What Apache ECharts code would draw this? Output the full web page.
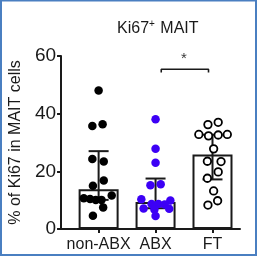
<!DOCTYPE html>
<html>
<head>
<meta charset="utf-8">
<script src="https://cdn.jsdelivr.net/npm/echarts@6/dist/echarts.min.js"></script>
<style>
  html, body { margin: 0; padding: 0; background: #fff; }
  #chart { width: 259px; height: 257px; }
</style>
</head>
<body>
<div id="chart"></div>
<script>
// groups on the x axis
const categories = ['non-ABX', 'ABX', 'FT'];

// bar height (median) and whisker ends per group
const barValues = [13.8, 9.4, 25.8];
const errLow = [10.1, 7.2, 17.2];
const errHigh = [27.0, 17.5, 32.7];

// individual values, with horizontal jitter
const nonAbxValues = [48.0, 35.7, 36.3, 24.3, 23.4, 16.8, 15.0, 10.7, 10.4, 10.1, 10.1, 11.6, 7.5, 4.6];
const nonAbxJitter = [0.0, -0.11, 0.07, -0.11, 0.09, 0.09, -0.1, -0.26, -0.15, -0.05, 0.05, 0.23, 0.08, -0.1];

const abxValues = [38.1, 27.8, 23.0, 15.2, 15.5, 10.3, 9.9, 8.7, 8.7, 8.5, 7.1, 7.0, 6.8, 4.5];
const abxJitter = [0.0, 0.0, 0.0, -0.09, 0.09, -0.25, 0.26, -0.07, 0.05, 0.16, -0.21, 0.24, -0.02, 0.0];

const ftValues = [36.2, 37.0, 32.8, 32.3, 32.6, 32.8, 27.8, 23.5, 23.4, 19.8, 17.6, 13.2, 8.3, 9.8];
const ftJitter = [-0.08, 0.1, -0.24, -0.07, 0.1, 0.26, 0.02, -0.09, 0.15, 0.1, -0.09, 0.02, -0.08, 0.09];

// significance bracket between ABX and FT
const bracketX = [1.1, 1.93];
const bracketY = [54.3, 55.4];
const starPos = [1.5, 59.0];

const FONT = "'Liberation Sans', Arial, sans-serif";
const INK = '#1a1a1a';

function points(index, values, jitter) {
    return values.map((v, i) => [index + jitter[i], v]);
}

const chart = echarts.init(document.getElementById('chart'));

const option = {
    animation: false,
    textStyle: { fontFamily: FONT },
    title: {
        text: 'Ki67{sup|+} MAIT',
        left: 112,
        top: 14,
        textStyle: {
            fontFamily: FONT,
            fontSize: 16,
            fontWeight: 'normal',
            color: INK,
            rich: {
                sup: { fontSize: 10, fontFamily: FONT, color: INK, padding: [0, 1, 9, 0] }
            }
        }
    },
    graphic: [{
        type: 'rect',
        silent: true,
        shape: { x: 1, y: 0.5, width: 255, height: 254.5 },
        style: { fill: 'none', stroke: '#4a7fc1', lineWidth: 2 }
    }],
    grid: { left: 58, right: 19, top: 56, bottom: 28 },
    xAxis: {
        type: 'value',
        min: -0.66,
        max: 2.483,
        axisLine: { show: true, onZero: false, lineStyle: { color: INK, width: 2 } },
        axisTick: { show: true, length: 4, lineStyle: { color: INK, width: 2 }, customValues: [0, 1, 2] },
        axisLabel: {
            customValues: [0, 1, 2],
            formatter: v => categories[Math.round(v)],
            fontSize: 16, color: INK, fontFamily: FONT, margin: 8
        },
        splitLine: { show: false }
    },
    yAxis: {
        type: 'value',
        min: 0,
        max: 60,
        interval: 20,
        name: '% of Ki67 in MAIT cells',
        nameLocation: 'middle',
        nameGap: 35,
        nameTextStyle: { fontSize: 16, color: INK, fontFamily: FONT },
        axisLine: { show: true, onZero: false, lineStyle: { color: INK, width: 2 } },
        axisTick: { show: true, length: 4, lineStyle: { color: INK, width: 2 } },
        axisLabel: { fontSize: 19, color: INK, fontFamily: FONT, margin: 5 },
        splitLine: { show: false }
    },
    series: [
        {
            type: 'bar',
            barWidth: 40,
            z: 1,
            data: barValues.map((v, i) => [i, v]),
            itemStyle: { color: '#fff', borderColor: INK, borderWidth: 2 }
        },
        {
            type: 'custom',
            z: 2,
            data: barValues.map((v, i) => [i, errLow[i], errHigh[i]]),
            renderItem: (params, api) => {
                const x = api.value(0);
                const top = api.coord([x, api.value(2)]);
                const bot = api.coord([x, api.value(1)]);
                const hw = 10;
                const style = { stroke: INK, lineWidth: 2 };
                return {
                    type: 'group',
                    children: [
                        { type: 'line', shape: { x1: top[0], y1: top[1], x2: bot[0], y2: bot[1] }, style },
                        { type: 'line', shape: { x1: top[0] - hw, y1: top[1], x2: top[0] + hw, y2: top[1] }, style },
                        { type: 'line', shape: { x1: bot[0] - hw, y1: bot[1], x2: bot[0] + hw, y2: bot[1] }, style }
                    ]
                };
            }
        },
        {
            type: 'scatter',
            z: 3,
            symbolSize: 8.5,
            data: points(0, nonAbxValues, nonAbxJitter),
            itemStyle: { color: '#000', opacity: 1 }
        },
        {
            type: 'scatter',
            z: 3,
            symbolSize: 8.5,
            data: points(1, abxValues, abxJitter),
            itemStyle: { color: '#3c00f5', opacity: 1 }
        },
        {
            type: 'scatter',
            z: 3,
            symbolSize: 7.5,
            data: points(2, ftValues, ftJitter),
            itemStyle: { color: '#fff', borderColor: '#000', borderWidth: 1.8, opacity: 1 }
        },
        {
            type: 'line',
            z: 3,
            symbol: 'none',
            data: [[bracketX[0], bracketY[0]], [bracketX[0], bracketY[1]], [bracketX[1], bracketY[1]], [bracketX[1], bracketY[0]]],
            lineStyle: { color: INK, width: 1.6 }
        },
        {
            type: 'scatter',
            z: 3,
            symbolSize: 0,
            data: [starPos],
            label: { show: true, position: 'inside', formatter: '*', fontSize: 15, color: '#000', fontFamily: FONT }
        }
    ]
};

chart.setOption(option);
</script>
</body>
</html>
